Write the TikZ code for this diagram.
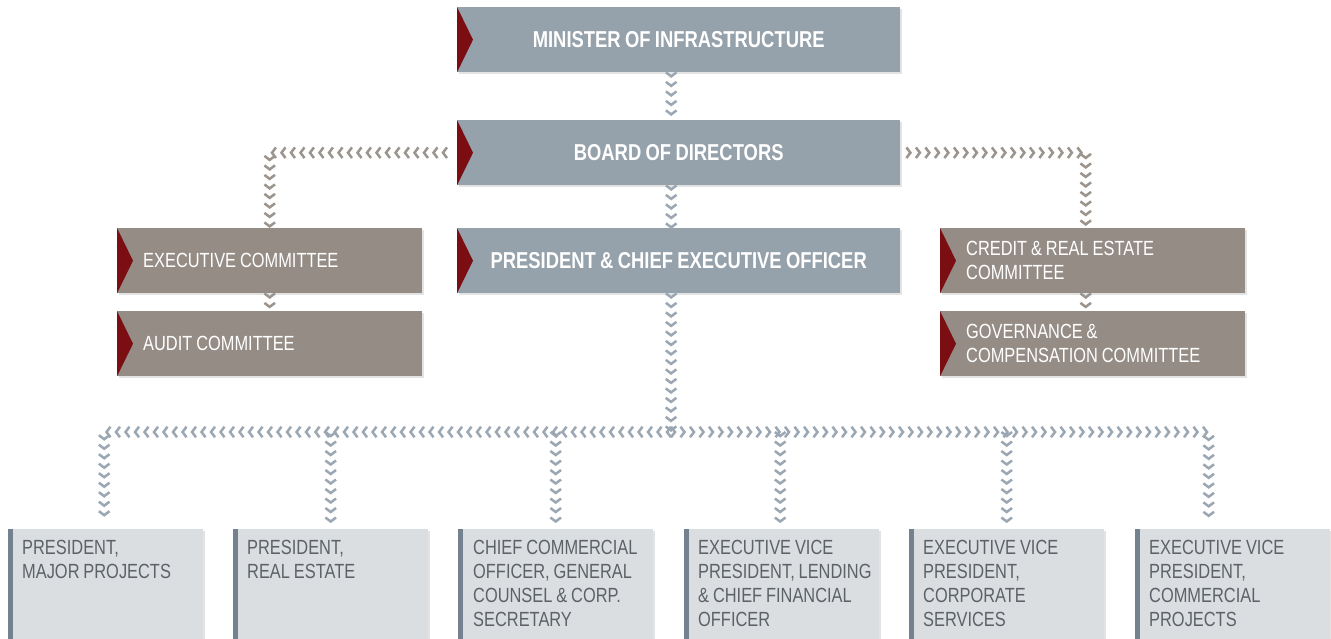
\documentclass[tikz,border=0pt]{standalone}
\usepackage{fontspec}
\setmainfont{Liberation Sans}[FakeStretch=0.8,WordSpace=0.85]
\usetikzlibrary{decorations.markings,shadows,calc}
\definecolor{bluegray}{HTML}{95A1AB}
\definecolor{taupe}{HTML}{948C85}
\definecolor{darkred}{HTML}{7A0E13}
\definecolor{lightbox}{HTML}{DBDEE1}
\definecolor{barcol}{HTML}{74828F}
\definecolor{chevblue}{HTML}{9BA7B2}
\definecolor{chevtaupe}{HTML}{9C958E}
\definecolor{txtdark}{HTML}{5D6268}
\begin{document}
\begin{tikzpicture}[x=1pt,y=-1pt,
 shad/.style={drop shadow={shadow xshift=1.5pt,shadow yshift=-1.5pt,opacity=0.22}},
 upbox/.style={rectangle,fill=bluegray,minimum width=443pt,minimum height=65pt,inner sep=0pt,text=white,font=\fontsize{23}{27}\selectfont\bfseries,shad},
 combox/.style={rectangle,fill=taupe,minimum height=65pt,inner xsep=26pt,inner ysep=0pt,text width=253pt,align=flush left,text=white,font=\fontsize{20.5}{24}\selectfont,shad},
 botbox/.style={rectangle,fill=lightbox,minimum width=195pt,minimum height=115pt,inner sep=0pt,anchor=north west,shad},
 bottxt/.style={anchor=base west,inner sep=0pt,text width=178pt,align=flush left,text=txtdark,font=\fontsize{20.5}{24}\selectfont},
 chev/.style={decoration={markings,mark=between positions 4pt and 1 step 9.5pt with {\draw[#1,line width=2.5pt] (-4pt,5.3pt) -- (0pt,0pt) -- (-4pt,-5.3pt);}},decorate}
]
\fill[white] (0,0) rectangle (1331,638);
\useasboundingbox (0,0) rectangle (1331,638);

% upper boxes
\node[upbox,anchor=north west] (min) at (457,7) {MINISTER OF INFRASTRUCTURE};
\node[upbox,anchor=north west] (bod) at (457,120) {BOARD OF DIRECTORS};
\node[upbox,anchor=north west] (ceo) at (457,228) {PRESIDENT \& CHIEF EXECUTIVE OFFICER};
\node[combox,anchor=north west] (exe) at (117,228) {EXECUTIVE COMMITTEE};
\node[combox,anchor=north west] (aud) at (117,311) {AUDIT COMMITTEE};
\node[combox,anchor=north west] (cre) at (940,228) {CREDIT \& REAL ESTATE\\COMMITTEE};
\node[combox,anchor=north west] (gov) at (940,311) {GOVERNANCE \&\\COMPENSATION COMMITTEE};
\foreach \n in {min,bod,ceo,exe,aud,cre,gov}
  \fill[darkred] (\n.north west) -- ([xshift=16pt]\n.west) -- (\n.south west) -- cycle;

% bottom boxes
\node[botbox] (b1) at (8,529) {};
\node[botbox] (b2) at (233,529) {};
\node[botbox] (b3) at (458,529) {};
\node[botbox] (b4) at (684,529) {};
\node[botbox] (b5) at (909,529) {};
\node[botbox] (b6) at (1135,529) {};
\foreach \n in {b1,b2,b3,b4,b5,b6}
  \fill[barcol] (\n.north west) rectangle ([xshift=5pt]\n.south west);
\node[bottxt] (t1) at (22,554) {PRESIDENT,\\MAJOR PROJECTS};
\node[bottxt] (t2) at (247,554) {PRESIDENT,\\REAL ESTATE};
\node[bottxt] (t3) at (473,554) {CHIEF COMMERCIAL\\OFFICER, GENERAL\\COUNSEL \& CORP.\\SECRETARY};
\node[bottxt] (t4) at (698,554) {EXECUTIVE VICE\\PRESIDENT, LENDING\\\& CHIEF FINANCIAL\\OFFICER};
\node[bottxt] (t5) at (923,554) {EXECUTIVE VICE\\PRESIDENT,\\CORPORATE\\SERVICES};
\node[bottxt] (t6) at (1149,554) {EXECUTIVE VICE\\PRESIDENT,\\COMMERCIAL\\PROJECTS};

% connectors
\path[chev=chevblue] ([xshift=-7.5pt]min.south) -- ([xshift=-7.5pt]bod.north);
\path[chev=chevtaupe] ([xshift=-10pt]bod.west) -| (exe.north);
\path[chev=chevtaupe] ([xshift=6pt]bod.east) -| ([xshift=-7pt]cre.north);
\path[chev=chevblue] ([xshift=-7.5pt]bod.south) -- ([xshift=-7.5pt]ceo.north);
\path[chev=chevtaupe] (exe.south) -- (aud.north);
\path[chev=chevtaupe] ([xshift=-7pt]cre.south) -- ([xshift=-7pt]gov.north);
\coordinate (hub) at (671,432);
\path[chev=chevblue] ([xshift=-7.5pt]ceo.south) -- (hub);
\path[chev=chevblue] (hub) -| ([xshift=-1.5pt,yshift=6pt]b1.north);
\path[chev=chevblue] (hub) -| ([xshift=-24pt,yshift=6pt]b6.north);
\path[chev=chevblue] (b2.north |- hub) -- ([yshift=6pt]b2.north);
\path[chev=chevblue] (b3.north |- hub) -- ([yshift=6pt]b3.north);
\path[chev=chevblue] ([xshift=-1.5pt]b4.north |- hub) -- ([xshift=-1.5pt,yshift=6pt]b4.north);
\path[chev=chevblue] (b5.north |- hub) -- ([yshift=6pt]b5.north);
\end{tikzpicture}
\end{document}
